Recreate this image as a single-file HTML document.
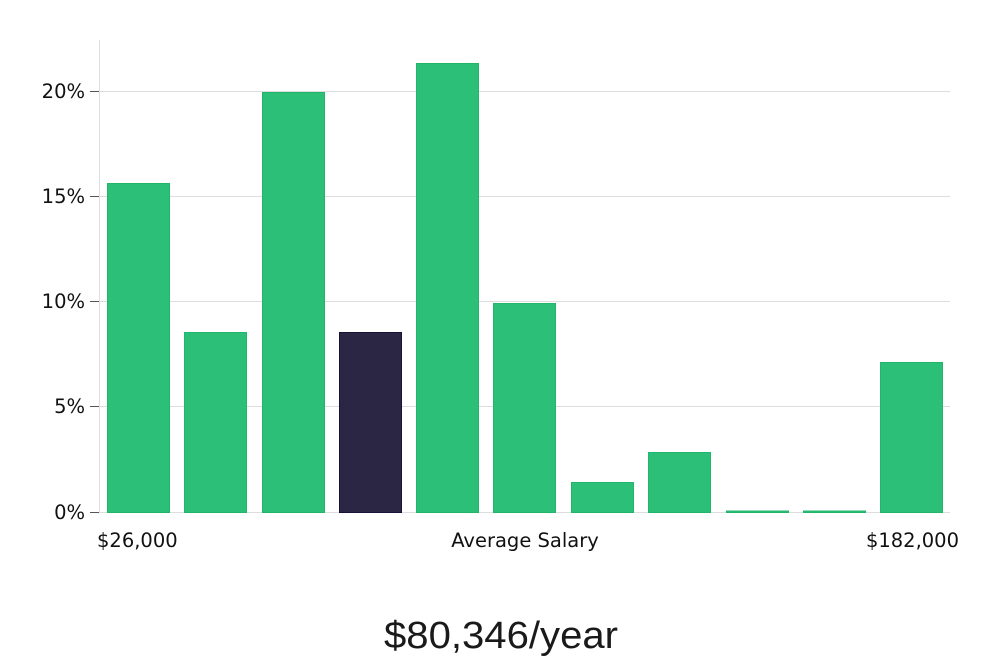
<!DOCTYPE html>
<html><head><meta charset="utf-8"><style>
html,body{margin:0;padding:0;background:#fff;}
svg{display:block;}
text{font-family:"DejaVu Sans","Liberation Sans",sans-serif;fill:#111;}
</style></head><body>
<svg width="1000" height="660" xmlns="http://www.w3.org/2000/svg">
<g stroke="#dddddd" stroke-width="1">
<line x1="99" y1="91.5" x2="950" y2="91.5"/>
<line x1="99" y1="196.5" x2="950" y2="196.5"/>
<line x1="99" y1="301.5" x2="950" y2="301.5"/>
<line x1="99" y1="406.5" x2="950" y2="406.5"/>
<line x1="99" y1="512.5" x2="950" y2="512.5"/>
<line x1="99.5" y1="40" x2="99.5" y2="512"/>
</g>
<g stroke="#555" stroke-width="1">
<line x1="90" y1="91.5" x2="99" y2="91.5"/>
<line x1="90" y1="196.5" x2="99" y2="196.5"/>
<line x1="90" y1="301.5" x2="99" y2="301.5"/>
<line x1="90" y1="406.5" x2="99" y2="406.5"/>
<line x1="90" y1="512.5" x2="99" y2="512.5"/>
</g>
<g font-size="19.5" text-anchor="end">
<text x="85" y="98">20%</text>
<text x="85" y="203">15%</text>
<text x="85" y="308">10%</text>
<text x="85" y="413">5%</text>
<text x="85" y="519">0%</text>
</g>
<g fill="#2bbf77" stroke="#22b56c" stroke-width="1">
<rect x="107.5" y="183.5" width="62" height="329"/>
<rect x="184.5" y="332.5" width="62" height="180"/>
<rect x="262.5" y="92.5" width="62" height="420"/>
<rect x="416.5" y="63.5" width="62" height="449"/>
<rect x="493.5" y="303.5" width="62" height="209"/>
<rect x="571.5" y="482.5" width="62" height="30"/>
<rect x="648.5" y="452.5" width="62" height="60"/>
<rect x="726.5" y="511" width="62" height="1.5"/>
<rect x="803.5" y="511" width="62" height="1.5"/>
<rect x="880.5" y="362.5" width="62" height="150"/>
</g>
<rect x="339.5" y="332.5" width="62" height="180" fill="#2a2644" stroke="#16123a" stroke-width="1"/>
<g font-size="19.5">
<text x="97" y="547">$26,000</text>
<text x="525" y="547" text-anchor="middle">Average Salary</text>
<text x="959" y="547" text-anchor="end">$182,000</text>
</g>
<text x="501" y="648" font-size="38" text-anchor="middle" textLength="234" lengthAdjust="spacingAndGlyphs" style="font-family:'Liberation Sans',sans-serif;fill:#1a1a1a">$80,346/year</text>
</svg>
</body></html>
